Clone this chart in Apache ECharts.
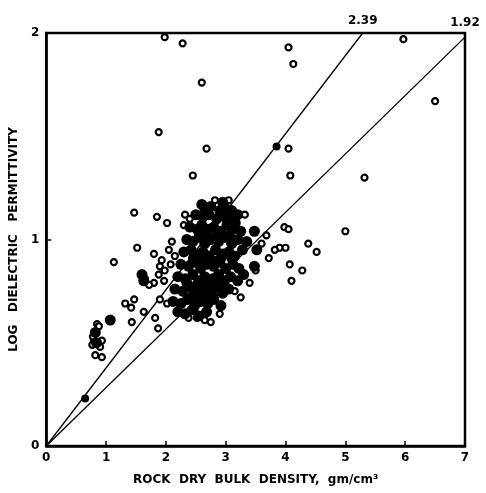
<!DOCTYPE html>
<html>
<head>
<meta charset="utf-8">
<script src="https://cdn.jsdelivr.net/npm/echarts@6/dist/echarts.min.js"></script>
<style>
  html, body { margin: 0; padding: 0; background: #fff; }
  #chart { width: 486px; height: 493px; }
</style>
</head>
<body>
<div id="chart"></div>
<script>
// 刻度
const xTicks = [0, 1, 2, 3, 4, 5, 6, 7];
const yTicks = [0, 1, 2];

// 两条参考线 (端点读自图)
const line239 = [[0, 0], [5.29, 2]];
const line192 = [[0, 0], [7, 1.98]];

// 空心圆点 [密度, log 介电常数]
const openPoints = [
  [1.98, 1.98], [2.28, 1.95], [2.6, 1.76], [4.05, 1.93], [4.13, 1.85], [5.97, 1.97], [6.5, 1.67],
  [1.88, 1.52], [2.68, 1.44], [2.45, 1.31], [4.05, 1.44], [4.08, 1.31], [5.32, 1.30],
  [5.0, 1.04], [3.98, 1.06], [4.05, 1.05], [4.0, 0.96], [4.38, 0.98], [4.52, 0.94],
  [4.07, 0.88], [4.28, 0.85], [4.1, 0.80], [3.9, 0.96], [3.82, 0.95], [3.72, 0.91], [3.68, 1.02],
  [2.82, 1.19], [3.05, 1.19], [3.32, 1.12],
  [1.47, 1.13], [1.85, 1.11], [2.02, 1.08], [2.32, 1.12], [2.4, 1.10], [2.3, 1.07],
  [1.52, 0.96], [1.13, 0.89], [1.8, 0.93], [1.93, 0.90], [1.9, 0.87], [1.98, 0.85], [1.88, 0.83],
  [1.97, 0.80], [2.1, 0.99], [2.05, 0.95], [2.15, 0.92], [2.08, 0.88],
  [1.65, 0.81], [1.8, 0.79], [1.72, 0.78], [1.32, 0.69], [1.47, 0.71], [1.42, 0.67],
  [1.43, 0.60], [1.63, 0.65], [1.87, 0.57], [1.9, 0.71], [2.02, 0.69], [1.82, 0.62],
  [0.85, 0.59], [0.88, 0.58], [0.8, 0.51], [0.77, 0.49], [0.9, 0.48], [0.93, 0.51],
  [0.82, 0.44], [0.93, 0.43], [0.78, 0.53],
  [2.38, 0.62], [2.52, 0.62], [2.65, 0.61], [2.75, 0.60], [3.15, 0.75], [3.5, 0.85],
  [3.4, 0.79], [3.25, 0.72], [2.9, 0.64], [3.6, 0.98]
];

// 密集区 (重叠成黑块的点)
const clusterPoints = [
  [2.6, 1.17], [2.65, 1.15], [2.75, 1.16], [2.95, 1.18], [3.0, 1.15], [3.1, 1.14],
  [2.5, 1.12], [2.62, 1.11], [2.72, 1.12], [2.85, 1.10], [2.98, 1.11], [3.08, 1.10], [3.2, 1.12],
  [2.4, 1.06], [2.52, 1.05], [2.6, 1.07], [2.7, 1.05], [2.8, 1.06], [2.92, 1.04], [3.02, 1.07],
  [3.12, 1.05], [3.25, 1.04], [3.48, 1.04],
  [2.35, 1.0], [2.45, 0.99], [2.55, 1.01], [2.65, 0.98], [2.75, 1.0], [2.88, 0.99], [2.98, 1.01],
  [3.1, 0.98], [3.2, 1.0], [3.35, 0.99],
  [2.3, 0.94], [2.42, 0.95], [2.5, 0.93], [2.62, 0.94], [2.72, 0.92], [2.83, 0.95], [2.95, 0.93],
  [3.05, 0.94], [3.15, 0.92], [3.28, 0.95], [3.52, 0.95],
  [2.25, 0.88], [2.38, 0.87], [2.48, 0.89], [2.58, 0.86], [2.68, 0.88], [2.8, 0.87], [2.9, 0.89],
  [3.0, 0.86], [3.12, 0.88], [3.22, 0.86], [3.48, 0.87],
  [2.2, 0.82], [2.32, 0.81], [2.45, 0.83], [2.55, 0.80], [2.65, 0.82], [2.78, 0.81], [2.88, 0.83],
  [2.98, 0.80], [3.08, 0.82], [3.2, 0.80], [3.3, 0.83],
  [2.15, 0.76], [2.28, 0.75], [2.4, 0.77], [2.5, 0.74], [2.62, 0.76], [2.72, 0.75], [2.85, 0.77],
  [2.95, 0.74], [3.05, 0.76],
  [2.12, 0.70], [2.25, 0.69], [2.36, 0.71], [2.48, 0.68], [2.58, 0.70], [2.7, 0.69], [2.8, 0.71],
  [2.92, 0.68],
  [2.2, 0.65], [2.32, 0.64], [2.45, 0.66], [2.55, 0.63], [2.68, 0.65],
  [2.56, 1.03], [2.68, 1.02], [2.86, 1.03], [3.06, 1.02], [2.46, 0.91], [2.6, 0.9], [2.77, 0.9],
  [2.92, 0.91], [3.1, 0.91], [2.35, 0.79], [2.52, 0.78], [2.7, 0.79], [2.9, 0.78], [2.42, 0.72],
  [2.62, 0.72], [2.78, 0.73], [3.16, 1.08], [2.9, 1.14],
  [1.63, 0.80], [1.6, 0.83], [1.07, 0.61], [0.82, 0.55], [0.84, 0.50]
];

// 实心点
const solidPoints = [[3.85, 1.45], [0.65, 0.23]];

const FONT = 'DejaVu Sans';

let myChart = echarts.init(document.getElementById('chart'));

let option = {
  backgroundColor: '#fff',
  animation: false,
  grid: {
    left: 44,
    right: 21,
    top: 33,
    bottom: 47,
    show: true,
    borderColor: '#000',
    borderWidth: 2.5
  },
  xAxis: {
    type: 'value',
    min: 0,
    max: 7,
    interval: 1,
    name: 'ROCK  DRY  BULK  DENSITY,  gm/cm³',
    nameLocation: 'middle',
    nameGap: 28,
    nameTextStyle: { color: '#000', fontWeight: 'bold', fontSize: 12, fontFamily: FONT },
    axisLine: { lineStyle: { color: '#000', width: 2.5 } },
    axisTick: { inside: true, length: 5, lineStyle: { color: '#000', width: 1.5 } },
    axisLabel: {
      color: '#000', fontWeight: 'bold', fontSize: 12, fontFamily: FONT, margin: 6,
      formatter: v => xTicks.indexOf(v) >= 0 ? String(v) : ''
    },
    splitLine: { show: false }
  },
  yAxis: {
    type: 'value',
    min: 0,
    max: 2,
    interval: 1,
    name: 'LOG   DIELECTRIC   PERMITTIVITY',
    nameLocation: 'middle',
    nameRotate: 90,
    nameGap: 25,
    nameTextStyle: { color: '#000', fontWeight: 'bold', fontSize: 12, fontFamily: FONT },
    axisLine: { lineStyle: { color: '#000', width: 2.5 } },
    axisTick: { inside: true, length: 5, lineStyle: { color: '#000', width: 1.5 } },
    axisLabel: {
      color: '#000', fontWeight: 'bold', fontSize: 12, fontFamily: FONT, margin: 7,
      formatter: v => yTicks.indexOf(v) >= 0 ? String(v) : ''
    },
    splitLine: { show: false }
  },
  series: [
    {
      name: '2.39',
      type: 'line',
      clip: false,
      symbol: 'circle',
      symbolSize: 0,
      lineStyle: { color: '#000', width: 1.3 },
      data: line239.map((p, i) => i === line239.length - 1 ? {
        value: p,
        label: { show: true, position: 'top', distance: 6, formatter: '2.39',
          color: '#000', fontWeight: 'bold', fontSize: 12, fontFamily: FONT }
      } : p),
      z: 1
    },
    {
      name: '1.92',
      type: 'line',
      clip: false,
      symbol: 'circle',
      symbolSize: 0,
      lineStyle: { color: '#000', width: 1.3 },
      data: line192.map((p, i) => i === line192.length - 1 ? {
        value: p,
        label: { show: true, position: 'top', distance: 8, formatter: '1.92',
          color: '#000', fontWeight: 'bold', fontSize: 12, fontFamily: FONT }
      } : p),
      z: 1
    },
    {
      name: 'open',
      type: 'scatter',
      symbol: 'circle',
      symbolSize: 6,
      itemStyle: { color: '#fff', borderColor: '#000', borderWidth: 2.2, opacity: 1 },
      data: openPoints,
      z: 2
    },
    {
      name: 'cluster',
      type: 'scatter',
      symbol: 'circle',
      symbolSize: 11,
      itemStyle: { color: '#000', opacity: 1 },
      data: clusterPoints,
      z: 3
    },
    {
      name: 'solid',
      type: 'scatter',
      symbol: 'circle',
      symbolSize: 8,
      itemStyle: { color: '#000', opacity: 1 },
      data: solidPoints,
      z: 3
    }
  ]
};

myChart.setOption(option);
window.onresize = function () { myChart.resize(); };
</script>
</body>
</html>
